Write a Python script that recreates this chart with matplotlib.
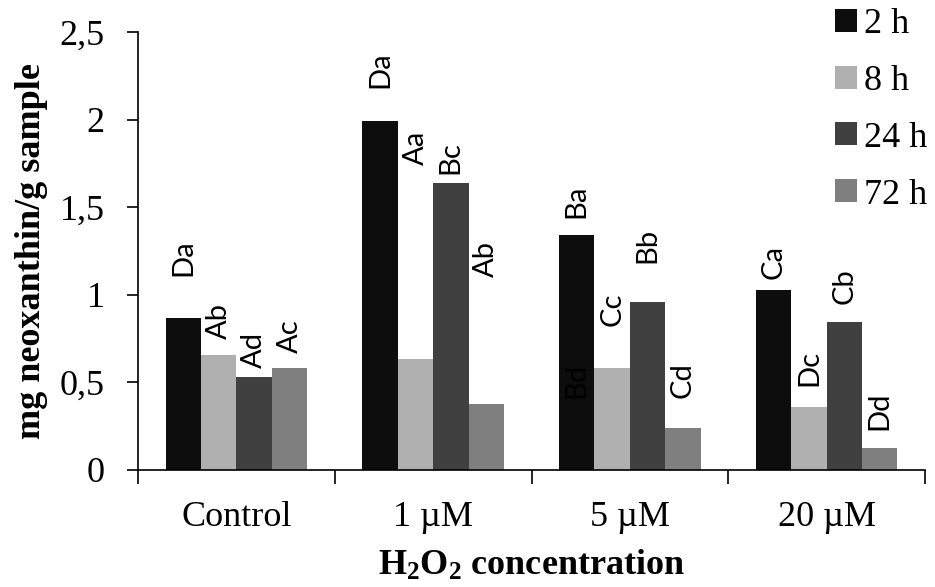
import numpy as np
import matplotlib
matplotlib.use("Agg")
import matplotlib.pyplot as plt
from matplotlib.ticker import FuncFormatter, FixedLocator

categories = ["Control", "1 \u00b5M", "5 \u00b5M", "20 \u00b5M"]
series = ["2 h", "8 h", "24 h", "72 h"]

vals_2h = [0.87, 1.99, 1.34, 1.03]
vals_8h = [0.655, 0.635, 0.58, 0.36]
vals_24h = [0.53, 1.64, 0.96, 0.845]
vals_72h = [0.58, 0.375, 0.24, 0.125]

letters_2h = ["Da", "Da", "Ba", "Ca"]
letters_8h = ["Ab", "Aa", "Cc", "Dc"]
letters_24h = ["Ad", "Bc", "Bb", "Cb"]
letters_72h = ["Ac", "Ab", "Cd", "Dd"]

# where the letters sit (top of the error range, bars have no error bars drawn)
letter_y_2h = [1.11, 2.18, 1.44, 1.09]
letter_y_8h = [0.75, 1.74, 0.82, 0.48]
letter_y_24h = [0.58, 1.69, 1.18, 0.95]
letter_y_72h = [0.67, 1.10, 0.41, 0.23]

colors = ["#0d0d0d", "#b0b0b0", "#404040", "#7f7f7f"]

serif = "Liberation Serif"
plt.rcParams["font.family"] = serif
plt.rcParams["mathtext.fontset"] = "custom"
plt.rcParams["mathtext.rm"] = serif
plt.rcParams["mathtext.bf"] = serif + ":bold"

fig = plt.figure(figsize=(9.35, 5.87), dpi=100)
ax = fig.add_axes([138 / 935, 1 - 470 / 587, (925 - 138) / 935, (470 - 32) / 587])

x = np.arange(len(categories))
w = 0.18
offsets = [-1.5 * w, -0.5 * w, 0.5 * w, 1.5 * w]
all_vals = [vals_2h, vals_8h, vals_24h, vals_72h]
all_letters = [letters_2h, letters_8h, letters_24h, letters_72h]
all_letter_y = [letter_y_2h, letter_y_8h, letter_y_24h, letter_y_72h]

for vals, off, col, name in zip(all_vals, offsets, colors, series):
    ax.bar(x + off, vals, w, color=col, label=name, zorder=2)

for lets, ys, off in zip(all_letters, all_letter_y, offsets):
    for i in range(len(categories)):
        ax.text(x[i] + off, ys[i], lets[i], rotation=90, ha="center", va="bottom",
                fontsize=21, family="Lato", zorder=3)

# stray letter printed over the 2 h bar at 5 uM in the original
ax.text(x[2] + offsets[0], 0.41, "Bd", rotation=90, ha="center", va="bottom",
        fontsize=21, family="Lato", color="#000000", zorder=3)

ax.set_xlim(-0.5, 3.5)
ax.set_ylim(0, 2.5)
ax.set_yticks([0, 0.5, 1, 1.5, 2, 2.5])
ax.yaxis.set_major_formatter(FuncFormatter(lambda v, p: f"{v:g}".replace(".", ",")))

ax.xaxis.set_major_locator(FixedLocator([-0.5, 0.5, 1.5, 2.5, 3.5]))
ax.xaxis.set_major_formatter(FuncFormatter(lambda v, p: ""))
ax.set_xticks(x, minor=True)
ax.set_xticklabels(categories, minor=True)
ax.tick_params(axis="x", which="minor", length=0, pad=22, labelsize=26)
ax.tick_params(axis="x", which="major", length=10, width=1.2, direction="out")
ax.tick_params(axis="y", length=8, width=1.2, pad=16, labelsize=26)

for s in ["top", "right"]:
    ax.spines[s].set_visible(False)
for s in ["left", "bottom"]:
    ax.spines[s].set_linewidth(1.2)

ax.set_ylabel("mg neoxanthin/g sample", fontsize=26, fontweight="bold")
ax.yaxis.set_label_coords(-0.114, 0.5)
ax.set_xlabel(r"$\mathbf{H_2O_2}$ concentration", fontsize=26, fontweight="bold")
ax.xaxis.set_label_coords(0.5, -0.18)

fig.legend(loc="upper left", bbox_to_anchor=(835 / 935, 1 - 8 / 587), frameon=False,
           fontsize=26, borderpad=0, borderaxespad=0, handlelength=0.6,
           handleheight=0.6, handletextpad=0.2, labelspacing=0.66)

fig.savefig("out.png", dpi=100)
